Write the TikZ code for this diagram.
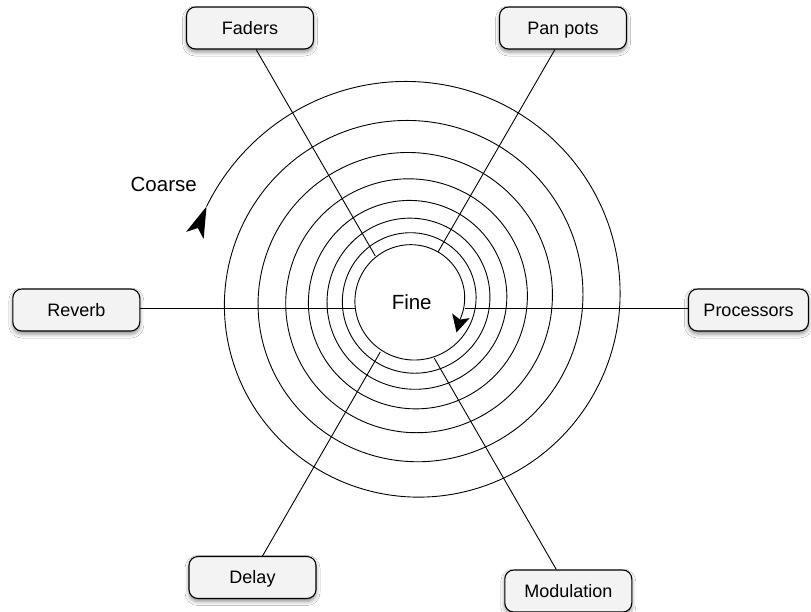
\documentclass[tikz,border=0pt]{standalone}
\usepackage{fontspec}
\setmainfont{Liberation Sans}
\usetikzlibrary{calc,shadows.blur}
\definecolor{boxfill}{RGB}{243,243,243}
\begin{document}
\begin{tikzpicture}[x=1pt,y=-1pt,
  labelbox/.style={draw=black, line width=1.1pt, fill=boxfill, rounded corners=9pt,
    minimum width=127pt, minimum height=42pt, inner sep=0pt,
    font=\fontsize{18}{21}\selectfont, text height=12.9pt, text depth=0pt,
    blur shadow={shadow xshift=0pt, shadow yshift=-3pt, shadow blur radius=4pt, shadow opacity=45}},
  spoke/.style={line width=0.9pt},
  coil/.style={line width=0.9pt},
  tag/.style={font=\fontsize{20.5}{24}\selectfont, inner sep=0pt},
  tipfill/.style={fill=black}
]
\fill[white] (0,0) rectangle (811,611);
\useasboundingbox (0,0) rectangle (811,611);

% hub where the six spokes meet
\coordinate (hub) at (405.5,308.3);

% logarithmic spiral, clockwise from coarse (outside) to fine (inside)
\begin{scope}[shift={(412.5,299.5)}]
  \draw[coil] plot[domain=-155.7:2543, samples=1350] (\x:{207.5*exp(-\x/1825)});
  \coordinate (coarseTip) at (-155.7:226.0);
  \coordinate (coarseBack) at (-163.6:226.9);
  \coordinate (fineBack) at (2543:51.5);
  \coordinate (fineTip) at (44,33);
\end{scope}

% arrow heads at both ends of the spiral
\fill[tipfill] (coarseTip) -- ($(coarseBack)!9.5pt!90:(coarseTip)$) -- ($(coarseBack)!8pt!(coarseTip)$)
  -- ($(coarseBack)!9.5pt!-90:(coarseTip)$) -- cycle;
\coordinate (fineBase) at ($(fineBack)!-4pt!(fineTip)$);
\fill[tipfill] (fineTip) -- ($(fineBase)!9pt!90:(fineTip)$) -- (fineBack)
  -- ($(fineBase)!9pt!-90:(fineTip)$) -- cycle;

% boxes
\node[labelbox] (faders) at (250,28) {Faders};
\node[labelbox] (panpots) at (563,28) {Pan pots};
\node[labelbox] (reverb) at (76.3,310) {Reverb};
\node[labelbox, minimum width=120pt] (processors) at (748.5,310) {Processors};
\node[labelbox] (delay) at (252.5,577.5) {Delay};
\node[labelbox] (modulation) at (568.3,591) {Modulation};

% inner ends of the spokes, on the innermost turn
\coordinate (fadersIn) at ($(hub)+(240:60.5)$);
\coordinate (panpotsIn) at ($(hub)+(300:65.4)$);
\coordinate (reverbIn) at ($(hub)+(180:50.5)$);
\coordinate (processorsIn) at ($(hub)+(0:59.5)$);
\coordinate (delayIn) at ($(hub)+(120:50.3)$);
\coordinate (modulationIn) at ($(hub)+(60:57.2)$);

% spokes
\draw[spoke] (fadersIn) -- (intersection of hub--fadersIn and faders.south west--faders.south east);
\draw[spoke] (panpotsIn) -- (intersection of hub--panpotsIn and panpots.south west--panpots.south east);
\draw[spoke] (delayIn) -- (intersection of hub--delayIn and delay.north west--delay.north east);
\draw[spoke] (modulationIn) -- (intersection of hub--modulationIn and modulation.north west--modulation.north east);
\draw[spoke] (reverbIn) -- (reverbIn -| reverb.east);
\draw[spoke] (processorsIn) -- (processorsIn -| processors.west);

% labels
\node[tag] (coarse) at (163.7,184.5) {Coarse};
\node[tag] (fine) at (411.7,302.5) {Fine};
\end{tikzpicture}
\end{document}
